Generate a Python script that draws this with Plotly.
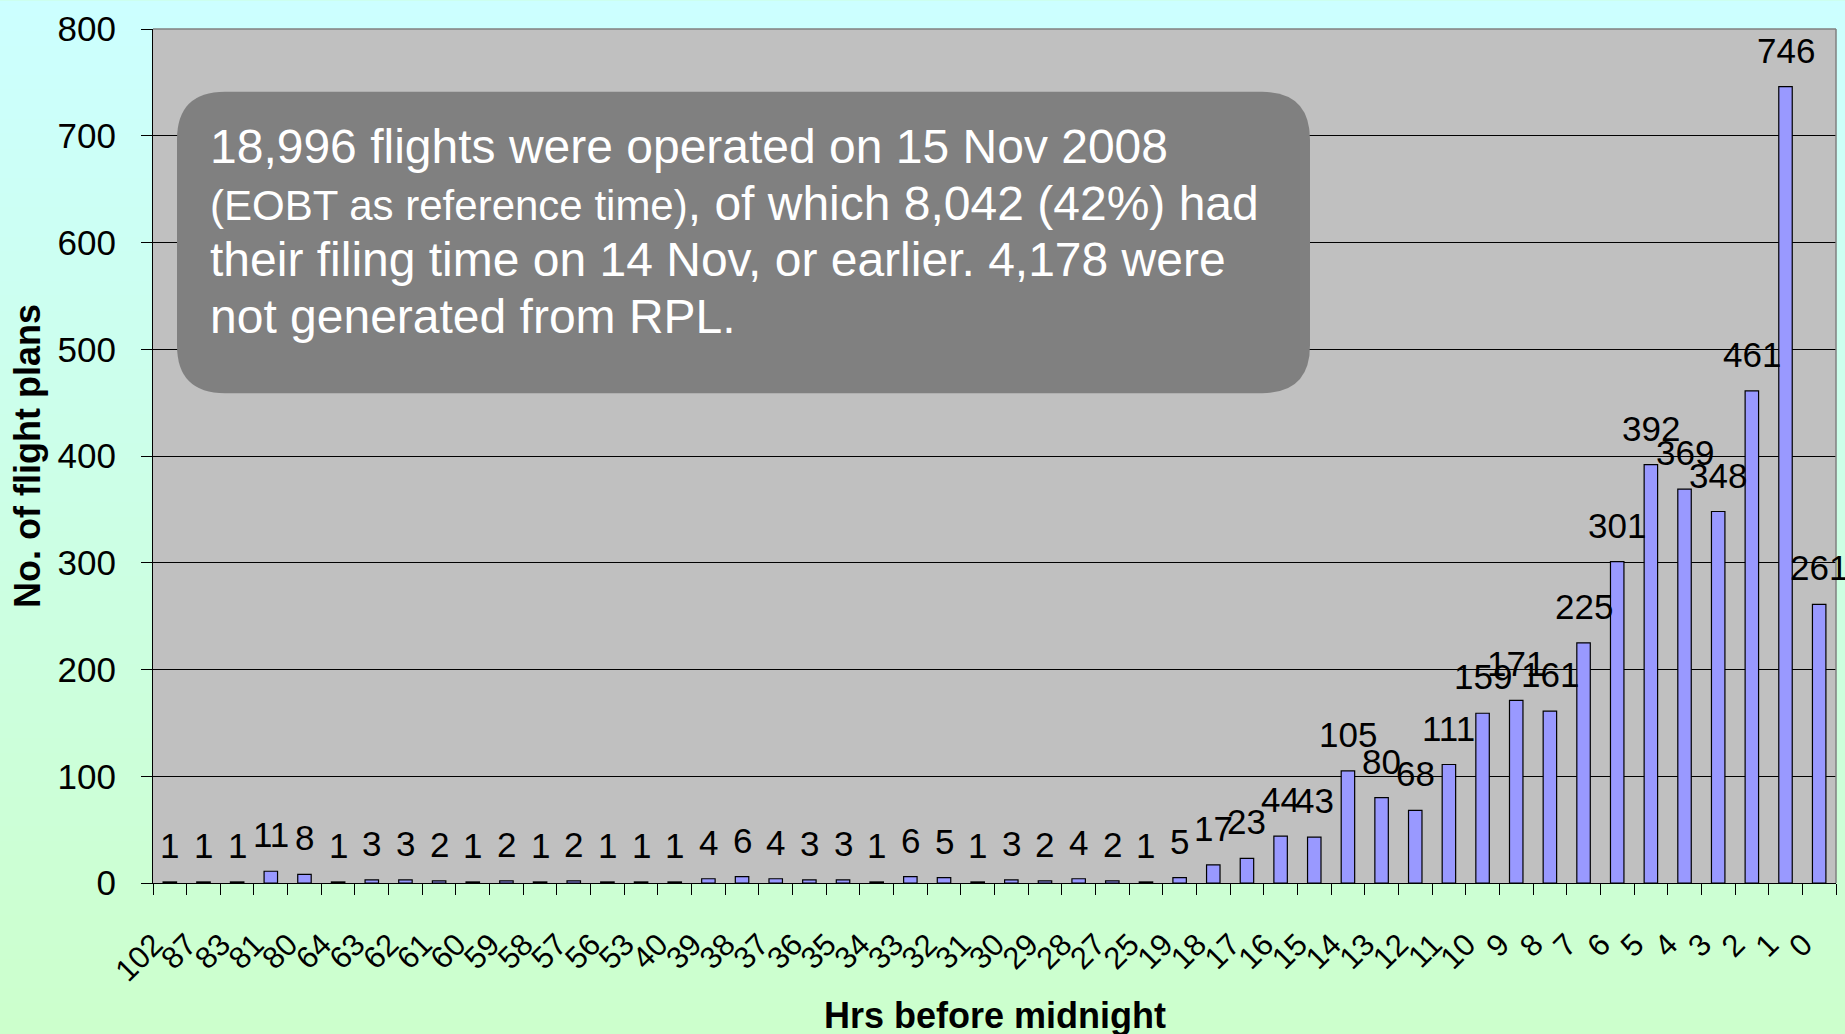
import plotly.graph_objects as go

# ---------------- data ----------------
hours = ["102", "87", "83", "81", "80", "64", "63", "62", "61", "60",
         "59", "58", "57", "56", "53", "40", "39", "38", "37", "36",
         "35", "34", "33", "32", "31", "30", "29", "28", "27", "25",
         "19", "18", "17", "16", "15", "14", "13", "12", "11", "10",
         "9", "8", "7", "6", "5", "4", "3", "2", "1", "0"]
flight_plans = [1, 1, 1, 11, 8, 1, 3, 3, 2, 1,
                2, 1, 2, 1, 1, 1, 4, 6, 4, 3,
                3, 1, 6, 5, 1, 3, 2, 4, 2, 1,
                5, 17, 23, 44, 43, 105, 80, 68, 111, 159,
                171, 161, 225, 301, 392, 369, 348, 461, 746, 261]
y_tick_values = [0, 100, 200, 300, 400, 500, 600, 700, 800]

note_lines = [
    "18,996 flights were operated on 15 Nov 2008",
    "<span style='font-size:42px'>(EOBT as reference time)</span>, of which 8,042 (42%) had",
    "their filing time on 14 Nov, or earlier. 4,178 were",
    "not generated from RPL.",
]
x_title = "Hrs before midnight"
y_title = "No. of flight plans"

# ---------------- layout geometry ----------------
W_FIG, H_FIG = 1845, 1034
M_L, M_R, M_T, M_B = 153, 9, 27, 151
PW = W_FIG - M_L - M_R
PH = H_FIG - M_T - M_B
FONT = "Arial, 'Liberation Sans', sans-serif"


def xp(px):
    return (px - M_L) / PW


def yp(py):
    return (H_FIG - M_B - py) / PH


shapes = []
# background gradient (cyan -> light green)
N = 70
top_c = (204, 255, 255)
bot_c = (204, 255, 204)
for i in range(N):
    t = (i + 0.5) / N
    c = tuple(round(a + (b - a) * t) for a, b in zip(top_c, bot_c))
    shapes.append(dict(type="rect", xref="paper", yref="paper", layer="below",
                       x0=xp(-2), x1=xp(W_FIG + 2),
                       y0=yp(i * H_FIG / N - 1), y1=yp((i + 1) * H_FIG / N + 1),
                       fillcolor="rgb(%d,%d,%d)" % c, line=dict(width=0)))
# plot area background
shapes.append(dict(type="rect", xref="paper", yref="paper", layer="below",
                   x0=0, x1=1, y0=0, y1=1, fillcolor="#C0C0C0", line=dict(width=0)))
# top / right border
shapes.append(dict(type="line", xref="paper", yref="paper", layer="above",
                   x0=0, x1=1, y0=1, y1=1, line=dict(color="#808080", width=1.5)))
shapes.append(dict(type="line", xref="paper", yref="paper", layer="above",
                   x0=1, x1=1, y0=0, y1=1, line=dict(color="#808080", width=1.5)))

# rounded note box
bx0, bx1, by0, by1 = xp(177), xp(1310), yp(392), yp(90)
rx, ry = 48 / PW, 48 / PH
path = (f"M {bx0+rx},{by1} L {bx1-rx},{by1} Q {bx1},{by1} {bx1},{by1-ry} "
        f"L {bx1},{by0+ry} Q {bx1},{by0} {bx1-rx},{by0} "
        f"L {bx0+rx},{by0} Q {bx0},{by0} {bx0},{by0+ry} "
        f"L {bx0},{by1-ry} Q {bx0},{by1} {bx0+rx},{by1} Z")
shapes.append(dict(type="path", xref="paper", yref="paper", layer="above",
                   path=path, fillcolor="#808080", line=dict(width=0)))

annotations = []
# value labels (x given as category index)
for i, v in enumerate(flight_plans):
    annotations.append(dict(x=i, y=v, xref="x", yref="y", text=str(v), showarrow=False,
                            yanchor="bottom", xanchor="center", yshift=15,
                            font=dict(family=FONT, size=35, color="black")))
# note text
baselines = [163, 220, 277, 334]
for line, b in zip(note_lines, baselines):
    annotations.append(dict(x=xp(208), y=yp(b + 10), xref="paper", yref="paper",
                            text=line, showarrow=False, xanchor="left", yanchor="bottom",
                            font=dict(family=FONT, size=48, color="white")))
# axis titles
annotations.append(dict(x=xp(27), y=yp(455), xref="paper", yref="paper",
                        text="<b>%s</b>" % y_title, textangle=-90, showarrow=False,
                        xanchor="center", yanchor="middle",
                        font=dict(family=FONT, size=36, color="black")))
annotations.append(dict(x=xp(995), y=yp(1016), xref="paper", yref="paper",
                        text="<b>%s</b>" % x_title, showarrow=False,
                        xanchor="center", yanchor="middle",
                        font=dict(family=FONT, size=36, color="black")))

fig = go.Figure(go.Bar(
    x=hours, y=flight_plans,
    marker=dict(color="#9999FF", line=dict(color="black", width=1.2)),
    hoverinfo="x+y",
))

fig.update_layout(
    width=W_FIG, height=H_FIG,
    margin=dict(l=M_L, r=M_R, t=M_T, b=M_B, pad=0),
    paper_bgcolor="#CCFFEE", plot_bgcolor="rgba(0,0,0,0)",
    bargap=0.6, showlegend=False,
    shapes=shapes, annotations=annotations,
    font=dict(family=FONT, color="black"),
)
fig.update_xaxes(
    type="category", tickmode="array", tickvals=hours, ticktext=hours,
    range=[-0.5, len(hours) - 0.5], autorange=False,
    tickangle=-45, tickson="boundaries", ticks="outside", ticklen=11,
    tickcolor="black", tickwidth=1, showline=True, linecolor="black", linewidth=1,
    showgrid=False, tickfont=dict(family=FONT, size=31, color="black"),
    ticklabelstandoff=30, ticklabelshift=-16,
)
fig.update_yaxes(
    range=[0, 800], autorange=False, tickmode="array", tickvals=y_tick_values,
    ticks="outside", ticklen=11, tickcolor="black", tickwidth=1,
    showline=True, linecolor="black", linewidth=1,
    showgrid=True, gridcolor="black", gridwidth=1, zeroline=False,
    tickfont=dict(family=FONT, size=35, color="black"), ticklabelstandoff=18,
)

fig.write_html("out.html", config={"displayModeBar": False},
               post_script="document.body.style.margin='0';document.body.style.overflow='hidden';")
